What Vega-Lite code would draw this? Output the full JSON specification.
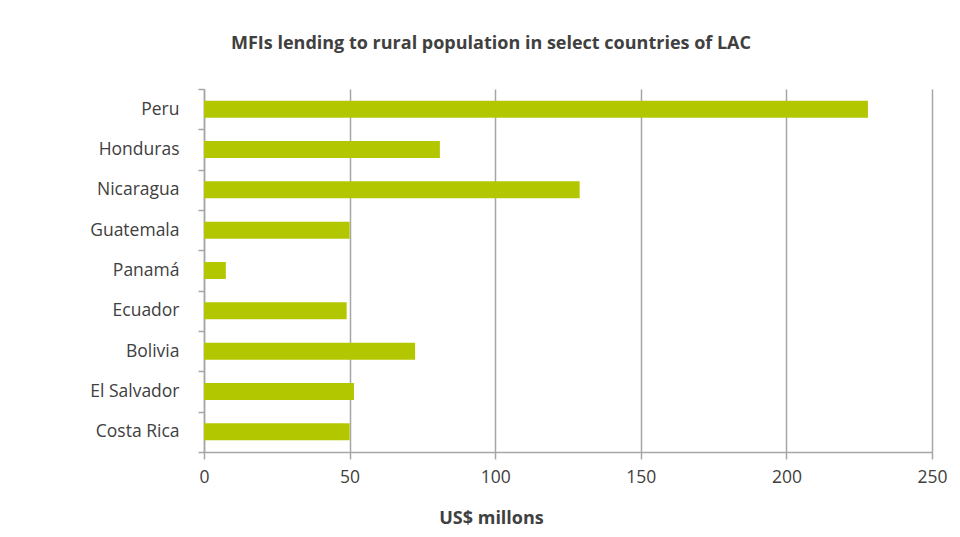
{
  "$schema": "https://vega.github.io/schema/vega-lite/v6.json",
  "autosize": "none",
  "width": 728,
  "height": 363,
  "padding": {"left": 204, "top": 89, "right": 28, "bottom": 85},
  "background": "white",
  "title": {
    "text": "MFIs lending to rural population in select countries of LAC",
    "font": "Open Sans",
    "fontSize": 18,
    "fontWeight": "bold",
    "color": "#404040",
    "anchor": "middle",
    "baseline": "alphabetic",
    "dx": -77,
    "offset": 13
  },
  "data": {
    "values": [
      {"country": "Peru", "value": 228},
      {"country": "Honduras", "value": 81},
      {"country": "Nicaragua", "value": 129},
      {"country": "Guatemala", "value": 50},
      {"country": "Panamá", "value": 7.5},
      {"country": "Ecuador", "value": 49},
      {"country": "Bolivia", "value": 72.5},
      {"country": "El Salvador", "value": 51.5},
      {"country": "Costa Rica", "value": 50}
    ]
  },
  "mark": {"type": "bar", "color": "#b3c700", "height": {"band": 0.42}},
  "encoding": {
    "y": {
      "field": "country",
      "type": "nominal",
      "sort": null,
      "scale": {"paddingInner": 0, "paddingOuter": 0},
      "axis": {
        "title": null,
        "tickBand": "extent",
        "tickSize": 6,
        "tickColor": "#a6a6a6",
        "domainColor": "#a6a6a6",
        "domainWidth": 1.5,
        "tickWidth": 1.5,
        "labelFont": "Open Sans",
        "labelFontSize": 17.5,
        "labelColor": "#404040",
        "labelPadding": 19,
        "grid": false
      }
    },
    "x": {
      "field": "value",
      "type": "quantitative",
      "scale": {"domain": [0, 250], "nice": false},
      "axis": {
        "title": "US$ millons",
        "titleFont": "Open Sans",
        "titleFontSize": 18,
        "titleFontWeight": "bold",
        "titleColor": "#404040",
        "titleX": 287,
        "titleY": 71,
        "titleBaseline": "alphabetic",
        "values": [0, 50, 100, 150, 200, 250],
        "tickSize": 7,
        "tickColor": "#a6a6a6",
        "tickWidth": 1.5,
        "domainColor": "#a6a6a6",
        "domainWidth": 1.5,
        "grid": true,
        "gridColor": "#a6a6a6",
        "gridWidth": 1.5,
        "labelFont": "Open Sans",
        "labelFontSize": 17.5,
        "labelColor": "#404040",
        "labelFlush": false,
        "labelPadding": 9
      }
    }
  },
  "config": {"view": {"stroke": null}}
}
